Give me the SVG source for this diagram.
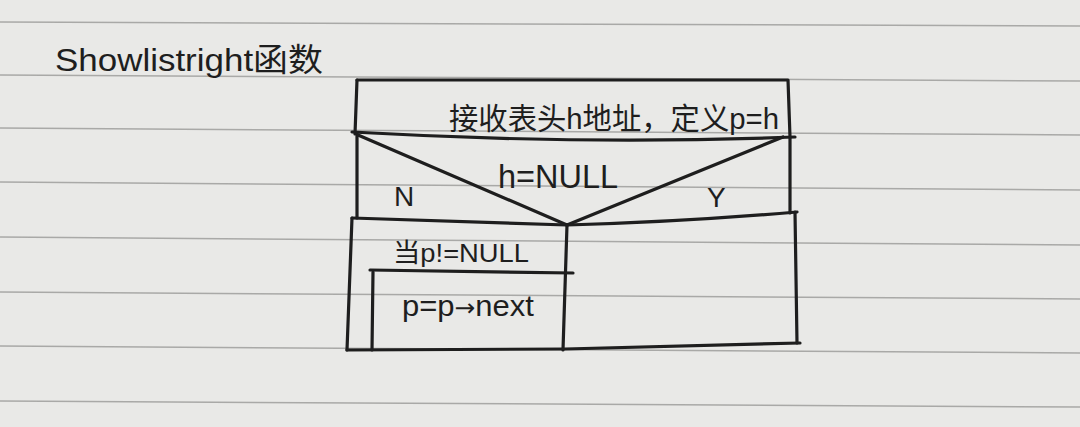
<svg xmlns="http://www.w3.org/2000/svg" width="1080" height="427" viewBox="0 0 1080 427">
  <style>
    .rule { stroke: #a9a9a7; stroke-width: 1.5; fill: none; }
    .ink { stroke: #1e1e1e; stroke-width: 3.2; fill: none; stroke-linecap: round; stroke-linejoin: round; }
    .txt { font-family: "Liberation Sans", "Noto Sans CJK SC", sans-serif; fill: #1e1e1e; }
    .arrow { font-family: "DejaVu Sans", sans-serif; }
  </style>
  <rect x="0" y="0" width="1080" height="427" fill="#e9e9e7"/>
  <g id="paper-rules">
    <line class="rule" x1="0" y1="22" x2="1080" y2="26"/>
    <line class="rule" x1="0" y1="75" x2="1080" y2="81"/>
    <line class="rule" x1="0" y1="128" x2="1080" y2="135"/>
    <line class="rule" x1="0" y1="182" x2="1080" y2="190"/>
    <line class="rule" x1="0" y1="237" x2="1080" y2="245"/>
    <line class="rule" x1="0" y1="292" x2="1080" y2="299"/>
    <line class="rule" x1="0" y1="346" x2="1080" y2="353"/>
    <line class="rule" x1="0" y1="401" x2="1080" y2="407"/>
  </g>

  <g id="title">
    <text class="txt" x="55" y="71" font-size="32" textLength="268" lengthAdjust="spacingAndGlyphs">Showlistright函数</text>
  </g>

  <g id="header-block">
    <path class="ink" d="M357,80 L788,80 L790,137"/>
    <path class="ink" d="M357,80 L355,134"/>
    <path class="ink" d="M352,132 Q580,145 795,137"/>
    <text class="txt" x="449" y="129" font-size="30" textLength="330" lengthAdjust="spacingAndGlyphs">接收表头h地址，定义p=h</text>
  </g>

  <g id="decision">
    <path class="ink" d="M357,134 L357,218"/>
    <path class="ink" d="M790,137 L790,213"/>
    <text class="txt" x="498" y="188" font-size="34" textLength="120" lengthAdjust="spacingAndGlyphs">h=NULL</text>
    <text class="txt" x="394" y="206" font-size="28">N</text>
    <text class="txt" x="707" y="207" font-size="28">Y</text>
  </g>

  <g id="connectors">
    <path class="ink" d="M358,135 L567,225"/>
    <path class="ink" d="M783,137 L567,225"/>
  </g>

  <g id="while-loop">
    <path class="ink" d="M352,218 L567,225"/>
    <path class="ink" d="M352,218 L347,350"/>
    <path class="ink" d="M567,225 L563,350"/>
    <text class="txt" x="393" y="262" font-size="26" textLength="136" lengthAdjust="spacingAndGlyphs">当p!=NULL</text>
  </g>

  <g id="loop-body">
    <path class="ink" d="M370,270 L573,273"/>
    <path class="ink" d="M373,272 L372,350"/>
    <text class="txt" x="402" y="316" font-size="30" textLength="132" lengthAdjust="spacingAndGlyphs">p=p<tspan class="arrow" font-size="24">→</tspan>next</text>
  </g>

  <g id="y-branch">
    <path class="ink" d="M567,225 Q680,222 797,212"/>
    <path class="ink" d="M795,212 L797,343"/>
  </g>

  <g id="bottom-edge">
    <path class="ink" d="M347,350 L565,349 L800,343"/>
  </g>
</svg>
